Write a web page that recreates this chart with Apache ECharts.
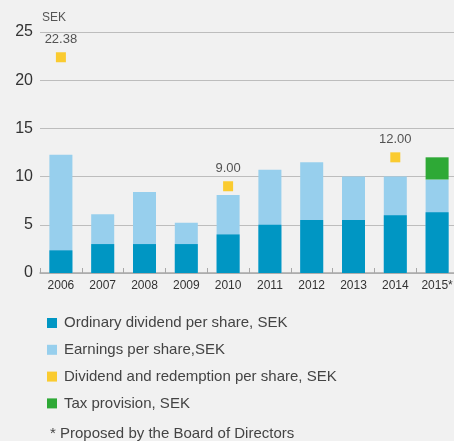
<!DOCTYPE html>
<html>
<head>
<meta charset="utf-8">
<style>
  html, body { margin: 0; padding: 0; background: #f1f1f1; overflow: hidden; }
  #chart { width: 458px; height: 441px; }
</style>
<script src="https://cdn.jsdelivr.net/npm/echarts@6/dist/echarts.min.js"></script>
</head>
<body>
<div id="chart"></div>
<script>
// Per-share figures, SEK
const years = ['2006', '2007', '2008', '2009', '2010', '2011', '2012', '2013', '2014', '2015*'];
const earningsPerShare = [12.26, 6.1, 8.4, 5.2, 8.1, 10.7, 11.5, 10.0, 10.0, 9.7];
const ordinaryDividend = [2.35, 3.0, 3.0, 3.0, 4.0, 5.0, 5.5, 5.5, 6.0, 6.3];
const dividendAndRedemption = [22.38, '-', '-', '-', 9.00, '-', '-', '-', 12.00, '-'];
const taxProvision = ['-', '-', '-', '-', '-', '-', '-', '-', '-', 2.3];
const yTicks = { min: 0, max: 25, step: 5 };

const FONT = '"Liberation Sans", Arial, sans-serif';
const COLORS = {
  dividend: '#0096c3',
  eps: '#97cfed',
  redemption: '#fcc200',
  tax: '#2ea936'
};

const chart = echarts.init(document.getElementById('chart'), null, { renderer: 'canvas' });

chart.setOption({
  backgroundColor: '#f1f1f1',
  animation: false,
  textStyle: { fontFamily: FONT },
  grid: { left: 40, right: 0, top: 32, bottom: 168, containLabel: false },
  legend: {
    orient: 'vertical',
    left: 47,
    top: 315.5,
    padding: 0,
    itemWidth: 10,
    itemHeight: 10,
    itemGap: 11.8,
    icon: 'rect',
    textStyle: { fontSize: 15, color: '#444', fontFamily: FONT, padding: [0, 0, 0, 2] },
    data: [
      'Ordinary dividend per share, SEK',
      'Earnings per share,SEK',
      'Dividend and redemption per share, SEK',
      'Tax provision, SEK'
    ]
  },
  xAxis: {
    type: 'category',
    data: years,
    axisLine: { lineStyle: { color: '#a8a8a8', width: 1.5 } },
    axisTick: { show: true, inside: true, length: 5, lineStyle: { color: '#a8a8a8' } },
    axisLabel: { fontSize: 12, color: '#333', margin: 7 }
  },
  yAxis: {
    type: 'value',
    min: yTicks.min,
    max: yTicks.max,
    interval: yTicks.step,
    name: 'SEK',
    nameLocation: 'end',
    nameGap: 14,
    nameTextStyle: { align: 'left', verticalAlign: 'middle', fontSize: 12, color: '#555', padding: [0, 0, 0, 2] },
    axisLine: { show: false },
    axisTick: { show: false },
    axisLabel: { fontSize: 16, color: '#333', margin: 7 },
    splitLine: { lineStyle: { color: '#bdbdbd', width: 1 } }
  },
  series: [
    {
      name: 'Earnings per share,SEK',
      type: 'bar',
      stack: 'eps',
      barWidth: 23,
      itemStyle: { color: COLORS.eps },
      data: earningsPerShare
    },
    {
      name: 'Tax provision, SEK',
      type: 'bar',
      stack: 'eps',
      barWidth: 23,
      itemStyle: { color: COLORS.tax },
      data: taxProvision
    },
    {
      name: 'Ordinary dividend per share, SEK',
      type: 'bar',
      barWidth: 23,
      barGap: '-100%',
      z: 3,
      itemStyle: { color: COLORS.dividend },
      data: ordinaryDividend
    },
    {
      name: 'Dividend and redemption per share, SEK',
      type: 'scatter',
      symbol: 'rect',
      symbolSize: 10,
      z: 4,
      itemStyle: { color: COLORS.redemption },
      label: {
        show: true,
        position: 'top',
        distance: 6,
        fontSize: 13,
        color: '#2a2a2a',
        formatter: p => Number(p.value).toFixed(2)
      },
      data: dividendAndRedemption
    }
  ],
  graphic: [
    {
      type: 'text',
      left: 50,
      top: 426,
      style: {
        text: '* Proposed by the Board of Directors',
        fontSize: 15,
        fill: '#444',
        fontFamily: FONT
      }
    }
  ]
});
</script>
</body>
</html>
